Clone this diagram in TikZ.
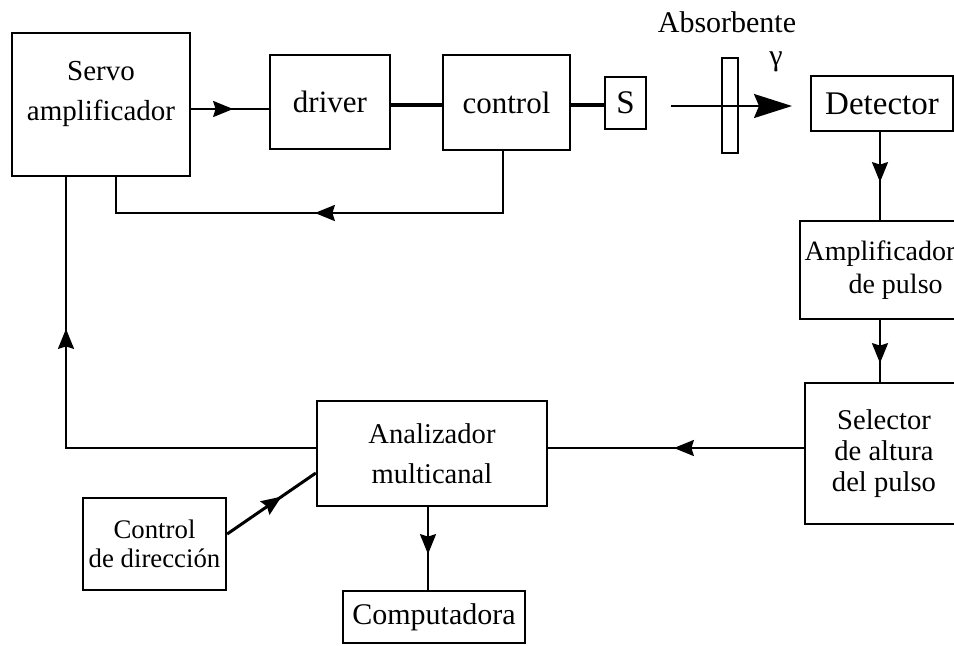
\documentclass[tikz,border=0pt]{standalone}
\usepackage{fontspec}
\setmainfont{Liberation Serif}
\usetikzlibrary{arrows.meta,decorations.markings}

\newcommand\fsz[2]{\fontsize{#1}{#2}\selectfont}

\tikzset{
  box/.style={draw, line width=1.15pt, inner sep=0pt, align=center},
  wire/.style={line width=1.05pt},
  thickwire/.style={line width=1.7pt},
  midarrow/.style={postaction={decorate},
    decoration={markings, mark=at position #1 with
      {\arrow{Stealth[length=10pt,width=8pt,inset=1.2pt]}}}},
}

\begin{document}
\begin{tikzpicture}[x=0.5pt,y=-0.5pt]
\clip (0,0) rectangle (954,645);

% upper chain: servo amplifier, driver, control, source
\node[box, minimum width=89pt, minimum height=71.5pt] (servo) at (101,104.5) {};
\node[align=center, font=\fsz{14.5}{20}] (servotxt) at (101,94) {Servo\\amplificador};
\node[box, minimum width=60pt, minimum height=47pt, font=\fsz{15.5}{18}] (driver) at (330,102) {driver};
\node[box, minimum width=63.5pt, minimum height=47.5pt, font=\fsz{15.5}{18}] (control) at (506.5,102.5) {control};
\node[box, minimum width=20.5pt, minimum height=26pt, font=\fsz{16.5}{18}] (S) at (625.5,103) {S};

% absorber and gamma beam
\node[box, line width=1pt, minimum width=8pt, minimum height=47.5pt] (absorber) at (730,105.5) {};
\node[font=\fsz{15}{18}] (abslabel) at (727,22) {Absorbente};
\node[font=\fsz{15}{18}] (gamma) at (776,62) {γ};
\coordinate (rayS) at (671,106);
\coordinate (rayE) at (792,106);

% detection chain
\node[box, minimum width=71pt, minimum height=27.5pt, font=\fsz{16.5}{18}] (detector) at (882,103.5) {Detector};
\node[box, align=left, minimum width=80pt, minimum height=49pt, font=\fsz{14}{16.5}] (amp) at (880,270)
  {Amplificador\\\hspace*{22pt}de pulso};
\node[box, minimum width=79pt, minimum height=70.5pt, font=\fsz{14.3}{15.5}] (sel) at (884,453.5)
  {Selector\\de altura\\del pulso};

% analysis
\node[box, minimum width=115pt, minimum height=52.5pt, font=\fsz{14.3}{20}] (ana) at (432,453.5)
  {Analizador\\multicanal};
\node[box, minimum width=71.5pt, minimum height=46pt, font=\fsz{13.4}{14.5}] (cdir) at (154.5,544)
  {Control\\de dirección};
\node[box, minimum width=91pt, minimum height=26pt, font=\fsz{15}{18}] (comp) at (434,617) {Computadora};

% connectors
\draw[wire, midarrow=21pt] (servo.east |- 0,109) -- (driver.west |- 0,109);
\draw[thickwire] (driver.east |- 0,105) -- (control.west |- 0,105);
\draw[thickwire] (control.east |- 0,105) -- (S.west |- 0,105);
\draw[wire, -{Stealth[length=19pt,width=12pt,inset=2.5pt]}] (rayS) -- (rayE);
\draw[wire, midarrow=25pt] (detector.south -| 880,0) -- (amp.north -| 880,0);
\draw[wire, midarrow=21.5pt] (amp.south -| 880,0) -- (sel.north -| 880,0);
\draw[wire, midarrow=65pt] (sel.west |- 0,448) -- (ana.east |- 0,448);
\draw[wire, midarrow=184.5pt] (ana.west |- 0,448) -| (servo.south -| 66,0);
\draw[wire, midarrow=125pt] (control.south -| 503,0) |- (116,213) -- (servo.south -| 116,0);
\draw[line width=1.5pt, midarrow=33pt] (cdir.east |- 0,534) -- (ana.west |- 0,473);
\draw[wire, midarrow=23.5pt] (ana.south -| 428,0) -- (comp.north -| 428,0);
\end{tikzpicture}
\end{document}
